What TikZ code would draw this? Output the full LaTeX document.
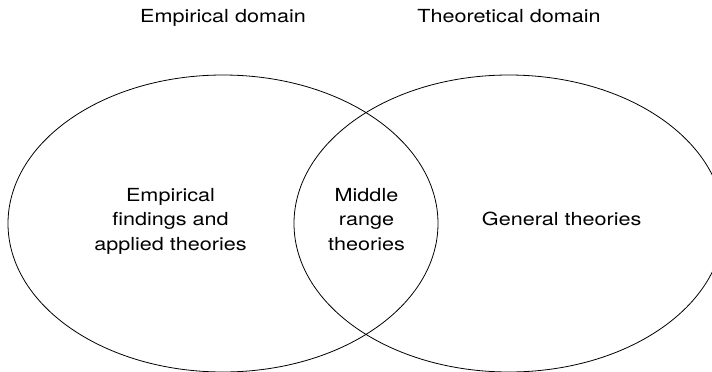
\documentclass[tikz,border=0pt]{standalone}
\usepackage{fontspec}
\setmainfont{TeX Gyre Heros}[FakeStretch=1.2]
\usetikzlibrary{shapes.geometric}
\begin{document}
\begin{tikzpicture}[x=1pt,y=-1pt,
  vennset/.style={ellipse,draw,line width=0.8pt,inner sep=0pt,
    minimum width=430pt,minimum height=297pt},
  txt/.style={font=\fontsize{18}{24.3}\selectfont,align=center,inner sep=0pt,anchor=base}]
  \useasboundingbox (0,0) rectangle (712,372);
  \clip (0,0) rectangle (712,372);
  % the two overlapping domains
  \node[vennset] (emp) at (223,223.5) {};
  \node[vennset] (theo) at (509,223.5) {};
  % headings above each domain
  \node[txt] (empT) at (223,22.7) {Empirical domain};
  \node[txt] (theoT) at (509,22.7) {Theoretical domain};
  % contents of each region (base = baseline of the last line)
  \node[txt] (applied) at (170.5,250) {Empirical\\findings and\\applied theories};
  \node[txt] (middle) at (366.5,250) {Middle\\range\\theories};
  \node[txt] (general) at (561.7,225) {General theories};
\end{tikzpicture}
\end{document}
